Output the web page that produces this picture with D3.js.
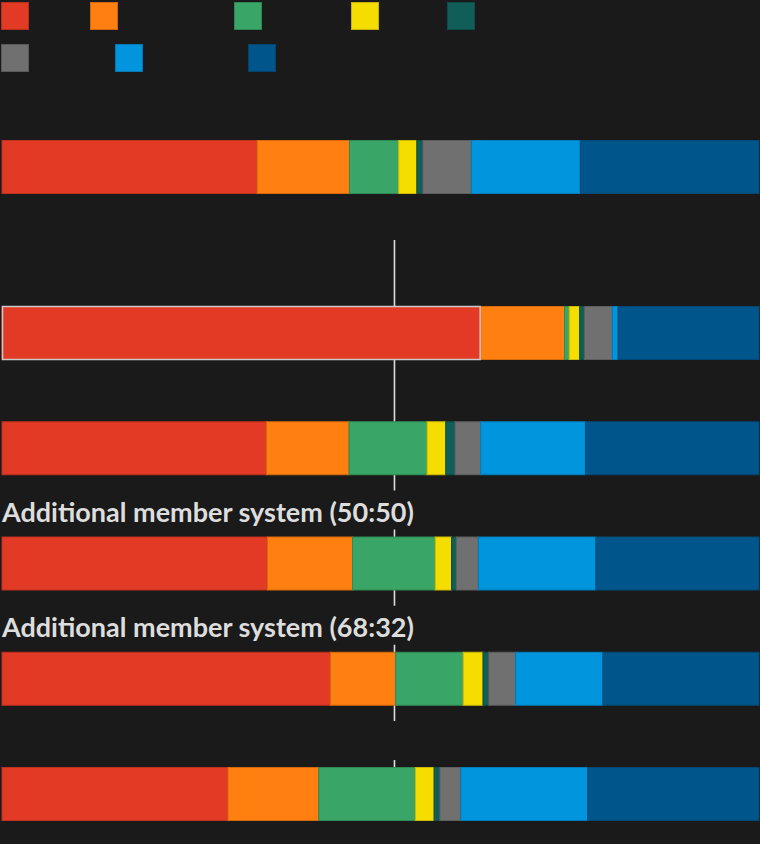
<!DOCTYPE html>
<html>
<head>
<meta charset="utf-8">
<script src="https://cdn.jsdelivr.net/npm/d3@7"></script>
<style>
  html, body { margin: 0; padding: 0; background: #1a1a1a; }
  svg { display: block; }
</style>
</head>
<body>
<div id="chart"></div>
<script>
// parties, in stacking order
const parties = ["Labour", "Liberal Democrats", "Green", "SNP", "Plaid Cymru", "Other", "Reform UK", "Conservative"];
const partyColours = ["#e23a25", "#ff7f10", "#39a566", "#f5dd00", "#115e58", "#707070", "#0095dc", "#00568b"];

// rows: first one is vote share (%), the rest are seats out of 650
const rowLabels = ["", "", "", "Additional member system (50:50)", "Additional member system (68:32)", ""];
const voteShare = [33.7, 12.2, 6.5, 2.4, 0.8, 6.4, 14.4, 23.6];
const seatsFptp = [411, 72, 4, 9, 4, 24, 5, 121];
const seatsRow3 = [227, 71, 67, 16, 8, 22, 90, 149];
const seatsAms5050 = [228, 73, 71, 14, 4, 19, 101, 140];
const seatsAms6832 = [282, 56, 58, 17, 5, 23, 75, 134];
const seatsRow6 = [194, 78, 83, 16, 5, 18, 109, 147];
const totalSeats = 650;
const majorityMark = 337;

const rowValues = [voteShare, seatsFptp, seatsRow3, seatsAms5050, seatsAms6832, seatsRow6];

// layout
const width = 760, height = 844;
const barHeight = 54;
const bg = "#1a1a1a";
// rows whose (long) label band hides the majority line
const labelHidesLine = [false, false, false, true, true, true];

const table = rowValues.map((vals, i) => {
    const o = {row: i};
    parties.forEach((p, j) => o[p] = vals[j]);
    return o;
});

const stack = d3.stack().keys(parties).offset(d3.stackOffsetExpand);
const series = stack(table);

const x = d3.scaleLinear().domain([0, 1]).range([2, 759]);
// row 0 sits apart from the seat rows
const seatY = d3.scaleLinear().domain([1, 5]).range([306, 767]);
const rowTop = i => i === 0 ? 140 : seatY(i);
const colour = d3.scaleOrdinal().domain(parties).range(partyColours);

const svg = d3.select("#chart")
    .append("svg")
    .attr("width", width)
    .attr("height", height)
    .style("background", bg);

// legend (label text is not legible in the reference, only swatches)
const legendX = [1, 90, 234, 351, 447, 1, 115, 248];
const legendY = [2, 2, 2, 2, 2, 44, 44, 44];
svg.append("g").attr("class", "legend")
    .selectAll("rect")
    .data(parties)
    .join("rect")
    .attr("x", (d, i) => legendX[i] + 0.5)
    .attr("y", (d, i) => legendY[i] + 0.5)
    .attr("width", 27)
    .attr("height", 27)
    .attr("fill", d => colour(d))
    .attr("stroke", d => d3.color(colour(d)).darker(0.6))
    .attr("stroke-width", 1);

// majority line, behind the bars
svg.append("line")
    .attr("x1", x(majorityMark / totalSeats))
    .attr("x2", x(majorityMark / totalSeats))
    .attr("y1", 240)
    .attr("y2", rowTop(5) + barHeight)
    .attr("stroke", "#dcdcdc")
    .attr("stroke-width", 1.6);

// label bands cover the line where the label runs across it
svg.append("g")
    .selectAll("rect")
    .data(d3.range(rowValues.length).filter(i => labelHidesLine[i]))
    .join("rect")
    .attr("x", 0)
    .attr("width", width)
    .attr("y", i => rowTop(i) - 46)
    .attr("height", 39)
    .attr("fill", bg);

// stacked bars
const bars = svg.append("g").attr("class", "bars");
series.forEach(s => {
    bars.append("g")
        .selectAll("rect")
        .data(s)
        .join("rect")
        .attr("x", d => x(d[0]))
        .attr("y", (d, i) => rowTop(i) + 0.5)
        .attr("width", d => Math.max(0, x(d[1]) - x(d[0])))
        .attr("height", barHeight - 1)
        .attr("fill", colour(s.key))
        .attr("stroke", d3.color(colour(s.key)).darker(0.5))
        .attr("stroke-width", 1);
});

// outline the party that wins a majority of seats
svg.append("g")
    .selectAll("rect")
    .data(table.filter(r => r.row > 0)
        .flatMap(r => series.filter(s => r[s.key] >= majorityMark).map(s => ({row: r.row, seg: s[r.row]}))))
    .join("rect")
    .attr("x", d => x(d.seg[0]) + 0.5)
    .attr("y", d => rowTop(d.row) + 0.5)
    .attr("width", d => x(d.seg[1]) - x(d.seg[0]) - 1)
    .attr("height", barHeight - 1)
    .attr("fill", "none")
    .attr("stroke", "#c9c9c9")
    .attr("stroke-width", 1.5);

// row labels
svg.append("g")
    .selectAll("text")
    .data(rowLabels.map((t, i) => ({t, i})).filter(d => d.t))
    .join("text")
    .attr("x", 2)
    .attr("y", d => rowTop(d.i) - 15)
    .attr("fill", "#dddddd")
    .style("font-family", "Lato, 'Open Sans', sans-serif")
    .style("font-weight", 700)
    .style("font-size", "27px")
    .text(d => d.t);
</script>
</body>
</html>
